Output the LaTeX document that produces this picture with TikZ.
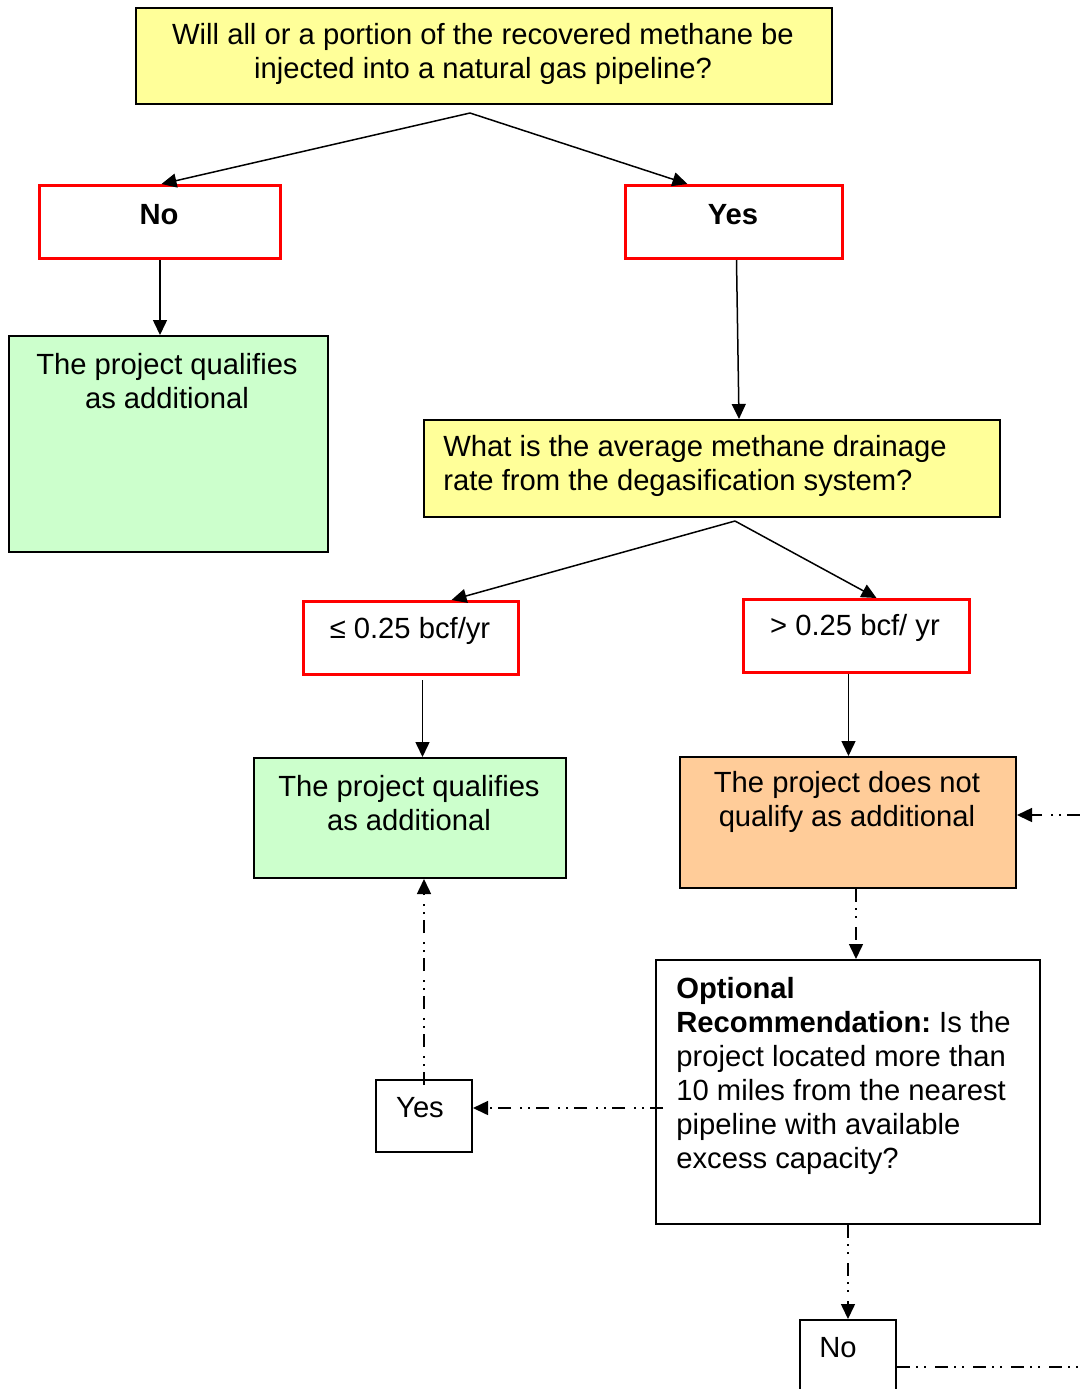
\documentclass[tikz,border=0pt]{standalone}
\usepackage{fontspec}
\setmainfont{Liberation Sans}
\usetikzlibrary{arrows.meta}
\definecolor{qyellow}{HTML}{FFFF99}
\definecolor{okgreen}{HTML}{CCFFCC}
\definecolor{nogood}{HTML}{FFCC99}
\definecolor{ansred}{HTML}{FF0000}
\frenchspacing

\begin{document}
\begin{tikzpicture}[x=0.5pt,y=-0.5pt,
  font=\fontsize{14.6}{17}\selectfont,
  box/.style={draw=black, line width=1pt, inner sep=0pt, anchor=north west},
  answer/.style={draw=ansred, line width=1.5pt, inner sep=0pt, anchor=north west},
  txt/.style={inner sep=0pt},
  flow/.style={line width=0.75pt, -{Triangle[length=7.5pt,width=7pt]}},
  dashdotdot/.style={line width=0.75pt, dash pattern=on 6.5pt off 3pt on 1pt off 3pt on 1pt off 4.5pt},
  opt/.style={flow, dashdotdot},
]
\useasboundingbox (0,0) rectangle (1080,1389);
\clip (0,0) rectangle (1080,1389);

% boxes
\node[box, fill=qyellow, minimum width=348pt, minimum height=48pt] (q1) at (135,7) {};
\node[answer, minimum width=120.5pt, minimum height=36.5pt] (no) at (38,184) {};
\node[answer, minimum width=108.5pt, minimum height=36.5pt] (yes) at (624,184) {};
\node[box, fill=okgreen, minimum width=159.5pt, minimum height=108pt] (ok1) at (8,335) {};
\node[box, fill=qyellow, minimum width=288pt, minimum height=48.5pt] (q2) at (423,419) {};
\node[answer, minimum width=107.5pt, minimum height=36.5pt] (low) at (302,600) {};
\node[answer, minimum width=113pt, minimum height=36.5pt] (high) at (742,598) {};
\node[box, fill=okgreen, minimum width=156pt, minimum height=60pt] (ok2) at (253,757) {};
\node[box, fill=nogood, minimum width=168pt, minimum height=65.5pt] (notq) at (679,756) {};
\node[box, minimum width=192pt, minimum height=132pt] (opt) at (655,959) {};
\node[box, minimum width=48pt, minimum height=36pt] (oyes) at (375,1079) {};
\node[box, minimum width=48pt, minimum height=40pt] (ono) at (799,1319) {};

% texts
\node[txt, align=center] (t1) at (483,54) {Will all or a portion of the recovered methane be\\injected into a natural gas pipeline?};
\node[txt, font=\fontsize{14.6}{17}\selectfont\bfseries] (tno) at (159,215) {No};
\node[txt, font=\fontsize{14.6}{17}\selectfont\bfseries] (tyes) at (733,215) {Yes};
\node[txt, align=center] (tok1) at (167,381) {The project qualifies\\as additional};
\node[txt, align=left, anchor=west] (t2) at (443,466) {What is the average methane drainage\\rate from the degasification system?};
\node[txt] (tlow) at (410,631) {≤ 0.25 bcf/yr};
\node[txt] (thigh) at (855,628) {> 0.25 bcf/ yr};
\node[txt, align=center] (tok2) at (409,803) {The project qualifies\\as additional};
\node[txt, align=center] (tnotq) at (847,802) {The project does not\\qualify as additional};
\node[txt, align=left, anchor=north west] (topt) at (676,977) {\textbf{Optional}\\\textbf{Recommendation:} Is the\\project located more than\\10 miles from the nearest\\pipeline with available\\excess capacity?};
\node[txt] (toyes) at (420,1108) {Yes};
\node[txt] (tono) at (838,1348) {No};

% branch points and connector ends
\coordinate (s1) at (470,113);
\coordinate (s2) at (735,521);
\coordinate (lowout) at ([xshift=5.75pt,yshift=-2pt]low.south);
\coordinate (highout) at ([xshift=-4pt]high.south);
\coordinate (notqout) at ([xshift=4pt]notq.south);
\coordinate (rin) at (1080,815);
\coordinate (o1) at (663,1108);
\coordinate (oyesout) at ([yshift=-3pt]oyes.north);
\coordinate (rout) at (1080,1367);

% connectors
\draw[flow] (s1) -- ([xshift=0.75pt]no.north);
\draw[flow] (s1) -- ([xshift=-23.25pt]yes.north);
\draw[flow] (no.south) -- (no.south |- ok1.north);
\draw[flow] ([xshift=1.25pt]yes.south) -- ([xshift=13.5pt]q2.north);
\draw[flow] (s2) -- ([xshift=20.25pt]low.north);
\draw[flow] (s2) -- ([xshift=10pt]high.north);
\draw[flow] (lowout) -- (lowout |- ok2.north);
\draw[flow] (highout) -- (highout |- notq.north);
\draw[opt] (notqout) -- (notqout |- opt.north);
\draw[opt] (rin) -- (rin -| notq.east);
\draw[opt] (o1) -- (o1 -| oyes.east);
\draw[opt] (oyesout) -- (oyesout |- ok2.south);
\draw[opt] (opt.south) -- (ono.north);
\draw[dashdotdot] (rout -| ono.east) -- (rout);
\end{tikzpicture}
\end{document}
